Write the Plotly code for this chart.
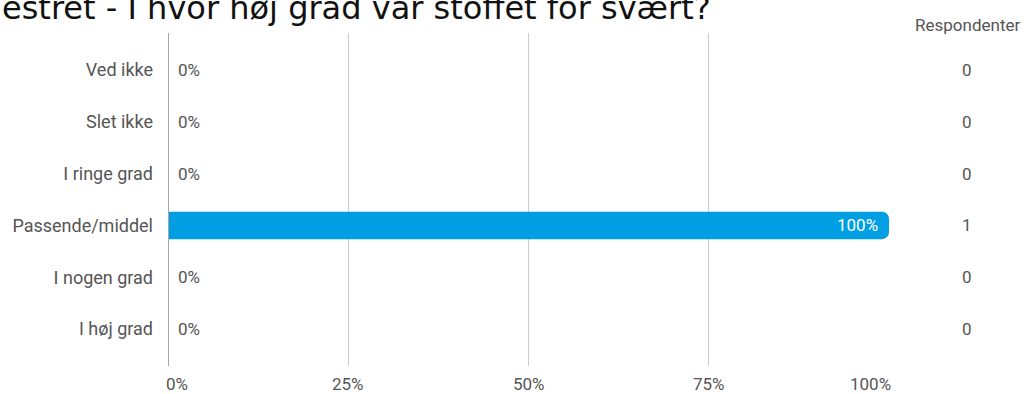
import plotly.graph_objects as go

# ---- data ----
title_text = "estret - I hvor høj grad var stoffet for svært?"
categories = ["Ved ikke", "Slet ikke", "I ringe grad", "Passende/middel", "I nogen grad", "I høj grad"]
percent = [0, 0, 0, 100, 0, 0]
respondents = [0, 0, 0, 1, 0, 0]
x_ticks = [0, 25, 50, 75, 100]
x_tick_labels = ["0%", "25%", "50%", "75%", "100%"]
count_header = "Respondenter"

W, H = 1026, 394
L, R, T, B = 168, 137, 33, 28
pw = W - L - R
ph = H - T - B

BAR = "#009fe3"
TXT = "#555555"
FONT = "Roboto"

fig = go.Figure()
fig.add_trace(go.Bar(
    x=percent, y=categories, orientation="h",
    marker=dict(color=BAR, line=dict(width=0)),
    width=0.53, hoverinfo="skip", showlegend=False,
))

ann = []
# value labels
for c, v in zip(categories, percent):
    if v > 0:
        ann.append(dict(x=v, y=c, xref="x", yref="y", text=f"{v}%", showarrow=False,
                        xanchor="right", xshift=-9, font=dict(family=FONT, size=17, color="white")))
    else:
        ann.append(dict(x=v, y=c, xref="x", yref="y", text=f"{v}%", showarrow=False,
                        xanchor="left", xshift=8, font=dict(family=FONT, size=17, color=TXT)))
# respondent counts
xc = (967 - L) / pw
for c, n in zip(categories, respondents):
    ann.append(dict(x=xc, y=c, xref="paper", yref="y", text=str(n), showarrow=False,
                    xanchor="center", font=dict(family=FONT, size=17, color=TXT)))
ann.append(dict(x=xc, y=1 + (T - 25) / ph, xref="paper", yref="paper", text=count_header,
                showarrow=False, xanchor="center", yanchor="middle",
                font=dict(family=FONT, size=17, color=TXT)))
# x tick labels
for i, (tv, tl) in enumerate(zip(x_ticks, x_tick_labels)):
    if i == 0:
        xa, xs = "left", -4
    elif i == len(x_ticks) - 1:
        xa, xs = "right", 4
    else:
        xa, xs = "center", 0
    ann.append(dict(x=tv, y=0, xref="x", yref="paper", text=tl, showarrow=False,
                    xanchor=xa, xshift=xs, yanchor="top", yshift=-6,
                    font=dict(family=FONT, size=17, color=TXT)))
# clipped title
ann.append(dict(x=-L / pw, y=1 + (T - 8.5) / ph, xref="paper", yref="paper", text=title_text,
                showarrow=False, xanchor="left", yanchor="middle",
                font=dict(family="DejaVu Sans", size=32, color="#111111")))

fig.update_layout(
    width=W, height=H,
    margin=dict(l=L, r=R, t=T, b=B, pad=0),
    paper_bgcolor="white", plot_bgcolor="white",
    barcornerradius=7,
    annotations=ann,
    xaxis=dict(range=[0, 100], tickvals=x_ticks, showticklabels=False,
               showgrid=True, gridcolor="#cccccc", gridwidth=1,
               zeroline=False, showline=False, fixedrange=True),
    yaxis=dict(type="category", categoryorder="array", categoryarray=categories,
               range=[len(categories) - 1 + 0.714, -0.714],
               showgrid=False, zeroline=False, showline=False, ticks="",
               ticklabelstandoff=14,
               tickfont=dict(family=FONT, size=18, color=TXT), fixedrange=True),
    shapes=[dict(type="line", xref="x", yref="paper", x0=0, x1=0, y0=0, y1=1,
                 line=dict(color="#a6a6a6", width=2), layer="above")],
)

fig.write_html("out.html", config={"displayModeBar": False},
               post_script="document.body.style.margin='0';")
